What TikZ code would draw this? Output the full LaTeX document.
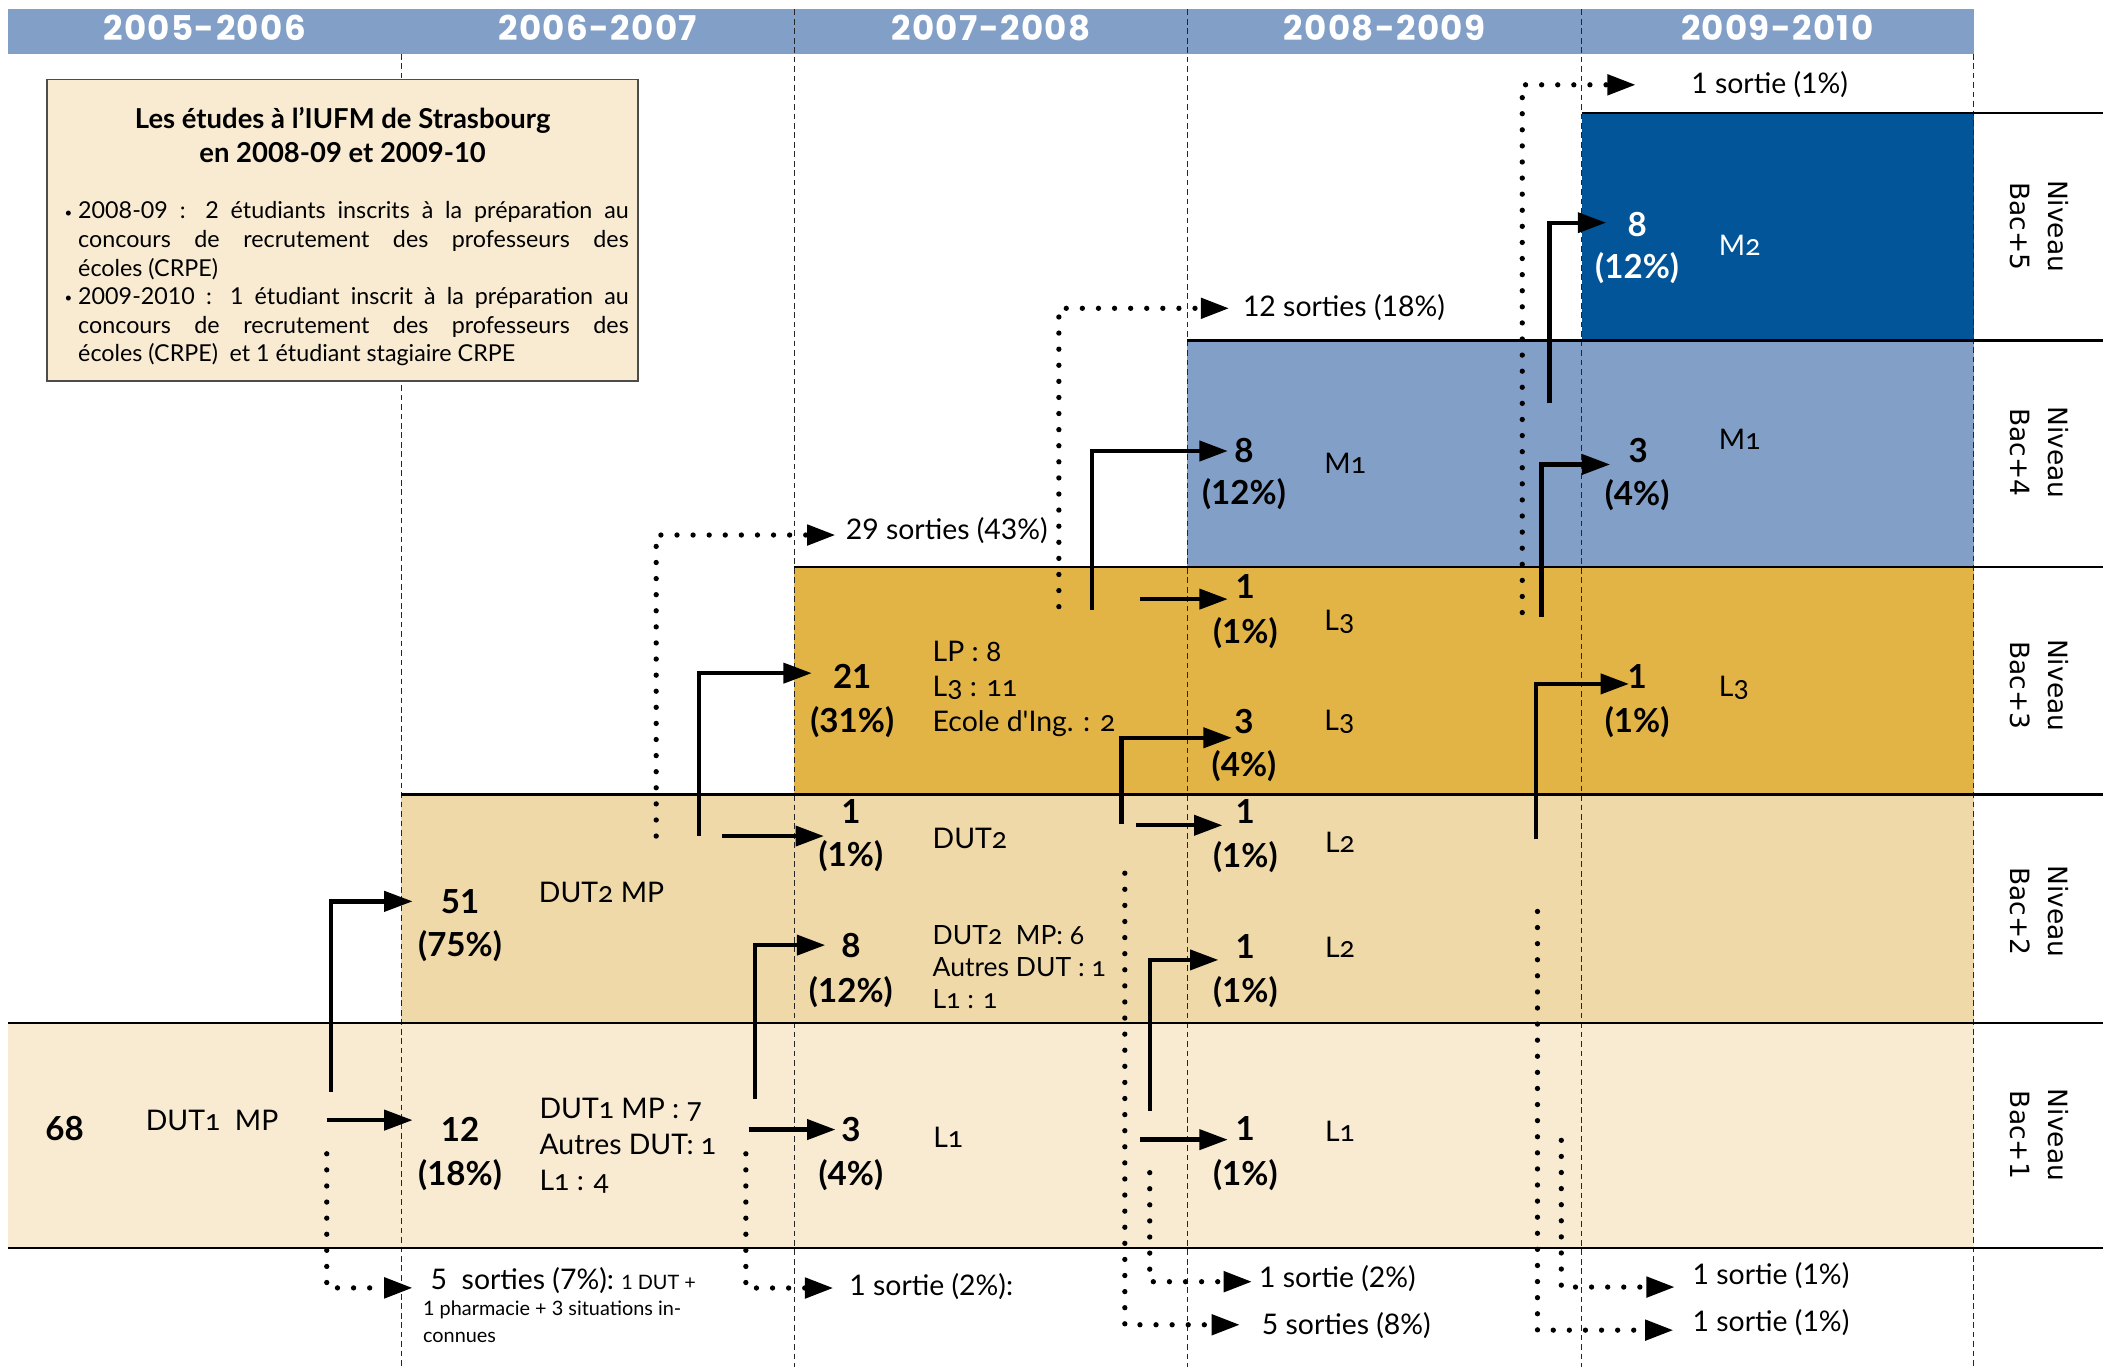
\documentclass[tikz,border=0pt]{standalone}
\usepackage{fontspec}
\setmainfont{Lato}
\newfontfamily\hdrfont{Poppins}[LetterSpace=4]
\newfontfamily\lvlfont{DejaVu Sans}
\newfontfamily\osfont{Lato}[Numbers=OldStyle]
\usetikzlibrary{arrows.meta}
\definecolor{hdrblue}{RGB}{130,159,199}
\definecolor{mtwo}{RGB}{2,85,152}
\definecolor{bacthree}{RGB}{226,180,70}
\definecolor{bactwo}{RGB}{240,217,168}
\definecolor{bacone}{RGB}{248,235,210}
\begin{document}
\begin{tikzpicture}[x=0.025cm,y=-0.025cm,
  flow/.style={line width=2.3pt,-{Triangle[length=15pt,width=10.5pt]}},
  exitflow/.style={line width=2.8pt,line cap=round,dash pattern=on 0pt off 8.5pt,-{Triangle[length=15pt,width=10.5pt]}},
  coldash/.style={line width=0.5pt,black!85,dash pattern=on 3pt off 2pt},
  rule/.style={line width=1.3pt},
  hdr/.style={font=\hdrfont\bfseries\fontsize{18}{18}\selectfont,text=white,inner sep=0pt},
  num/.style={font=\bfseries\fontsize{17.5}{17.5}\selectfont,inner sep=0pt,anchor=center},
  lab/.style={font=\osfont\fontsize{15}{19}\selectfont,inner sep=0pt,anchor=base west,align=left},
  sortie/.style={font=\fontsize{15}{15}\selectfont,inner sep=0pt,anchor=base west},
  lvl/.style={font=\lvlfont\fontsize{14}{20}\selectfont,rotate=-90,align=center,inner sep=0pt}
]
\useasboundingbox (0,0) rectangle (1568,1015.3);
% bands
\fill[hdrblue] (6,7) rectangle (1466,40);
\fill[bacone] (6,760) rectangle (1466,927);
\fill[bactwo] (298,590) rectangle (1466,760);
\fill[bacthree] (590,421) rectangle (1466,590);
\fill[hdrblue] (882,253) rectangle (1466,421);
\fill[mtwo] (1175,84) rectangle (1466,253);
% column separators
\foreach \x in {298,1466} \draw[coldash] (\x,40) -- (\x,1015.3);
\foreach \x in {590,882,1175} \draw[coldash] (\x,7) -- (\x,1015.3);
% level rules
\draw[rule] (1175,84) -- (1562,84);
\draw[rule] (882,253) -- (1562,253);
\draw[rule] (590,421) -- (1562,421);
\draw[rule] (298,590) -- (1562,590);
\draw[rule] (6,760) -- (1562,760);
\draw[rule] (6,927) -- (1562,927);
% headers
\node[hdr] (h1) at (152,21) {2005-2006};
\node[hdr] (h2) at (444,21) {2006-2007};
\node[hdr] (h3) at (736,21) {2007-2008};
\node[hdr] (h4) at (1028.5,21) {2008-2009};
\node[hdr] (h5) at (1320,21) {2009-2010};
% info box
\draw[draw=black!70,fill=bacone,line width=0.8pt] (35,59) rectangle (474,283);
\node[font=\bfseries\fontsize{14.5}{17.8}\selectfont,align=center,anchor=base,inner sep=0pt] (boxtitle) at (254.5,120.6) {Les études à l'IUFM de Strasbourg\\en 2008-09 et 2009-10};
\node[anchor=base west,inner sep=0pt,text width=298pt,align=justify,font=\fontsize{12.3}{15.1}\selectfont] (boxtext) at (47.7,162.6) {%
\hangindent=7.2pt\hangafter=1\noindent\makebox[7.2pt][l]{\raisebox{1pt}{\fontsize{7}{7}\selectfont\textbullet}}2008-09 : 2 étudiants inscrits à la préparation au\linebreak concours de recrutement des professeurs des\linebreak écoles (CRPE)\par
\hangindent=7.2pt\hangafter=1\noindent\makebox[7.2pt][l]{\raisebox{1pt}{\fontsize{7}{7}\selectfont\textbullet}}2009-2010 : 1 étudiant inscrit à la préparation au\linebreak concours de recrutement des professeurs des\linebreak écoles (CRPE)\enspace et 1 étudiant stagiaire CRPE\par};
% level labels
\node[lvl] (v5) at (1515,168) {Niveau\\Bac+5};
\node[lvl] (v4) at (1515,336) {Niveau\\Bac+4};
\node[lvl] (v3) at (1515,509) {Niveau\\Bac+3};
\node[lvl] (v2) at (1515,677) {Niveau\\Bac+2};
\node[lvl] (v1) at (1515,843) {Niveau\\Bac+1};
% column 1
\node[num] (n68) at (48,838) {68};
\node[lab] (l68) at (108,839.5) {DUT1\ \ MP};
% column 2
\node[num] (n51) at (341.7,669.5) {51};
\node[num] (p51) at (341.7,703) {(75\%)};
\node[lab] (l51) at (400,670.5) {DUT2 MP};
\node[num] (n12) at (341.7,839) {12};
\node[num] (p12) at (341.7,873) {(18\%)};
\node[lab] (l12) at (400.5,884.4) {DUT1 MP : 7\\Autres DUT: 1\\L1 : 4};
% column 3
\node[num] (n21) at (633,502.6) {21};
\node[num] (p21) at (633,536) {(31\%)};
\node[lab,font=\osfont\fontsize{15}{18.5}\selectfont] (l21) at (692.5,543.5) {LP : 8\\L3 : 11\\Ecole d'Ing. : 2};
\node[num] (n1c) at (632,603) {1};
\node[num] (p1c) at (632,636) {(1\%)};
\node[lab] (l1c) at (692.5,630.5) {DUT2};
\node[num] (n8c) at (632,702) {8};
\node[num] (p8c) at (632,737) {(12\%)};
\node[lab,font=\osfont\fontsize{14}{17}\selectfont] (l8c) at (692.5,749) {DUT2\ \ MP: 6\\Autres DUT : 1\\L1 : 1};
\node[num] (n3c) at (632,839) {3};
\node[num] (p3c) at (632,873) {(4\%)};
\node[lab] (l3c) at (693,852.5) {L1};
% column 4
\node[num] (n8d) at (924,334.8) {8};
\node[num] (p8d) at (924,367) {(12\%)};
\node[lab] (l8d) at (983.5,351.5) {M1};
\node[num] (n1d) at (925,435.8) {1};
\node[num] (p1d) at (925,470) {(1\%)};
\node[lab] (l1d) at (983.5,468) {L3};
\node[num] (n3d) at (924,536) {3};
\node[num] (p3d) at (924,569) {(4\%)};
\node[lab] (l3d) at (983.5,542.5) {L3};
\node[num] (n1e) at (925,603) {1};
\node[num] (p1e) at (925,637) {(1\%)};
\node[lab] (l1e) at (984,633.5) {L2};
\node[num] (n1f) at (925,703) {1};
\node[num] (p1f) at (925,737) {(1\%)};
\node[lab] (l1f) at (984,711.5) {L2};
\node[num] (n1g) at (925,838) {1};
\node[num] (p1g) at (925,873) {(1\%)};
\node[lab] (l1g) at (984,848) {L1};
% column 5
\node[num,text=white] (n8e) at (1216,166.7) {8};
\node[num,text=white] (p8e) at (1216,199) {(12\%)};
\node[lab,text=white] (l8e) at (1276.5,190) {M2};
\node[num] (n3e) at (1216.8,334.3) {3};
\node[num] (p3e) at (1216,367.7) {(4\%)};
\node[lab] (l3e) at (1276.5,334) {M1};
\node[num] (n1h) at (1216,502.6) {1};
\node[num] (p1h) at (1216,536) {(1\%)};
\node[lab] (l1h) at (1276.5,517.5) {L3};
% exits text
\node[sortie] (s29) at (628,401) {29 sorties (43\%)};
\node[sortie] (s12) at (923,235) {12 sorties (18\%)};
\node[sortie] (s1top) at (1256,69.5) {1 sortie (1\%)};
\node[sortie] (s5b) at (937,991.5) {5 sorties (8\%)};
\node[sortie] (s1b) at (935,956) {1 sortie (2\%)};
\node[sortie] (s1c) at (1257,954) {1 sortie (1\%)};
\node[sortie] (s1d) at (1257,989) {1 sortie (1\%)};
\node[sortie] (s1a) at (630.6,962) {1 sortie (2\%):};
\node[sortie,align=left,font=\fontsize{15}{14}\selectfont] (s5a) at (314,997) {\hspace*{4pt}5\ \ sorties (7\%):\ {\fontsize{10.5}{14}\selectfont 1 DUT +}\\{\fontsize{10.5}{14}\selectfont 1 pharmacie + 3 situations in-}\\{\fontsize{10.5}{14}\selectfont connues}};
% arrow endpoints
\coordinate (a1s) at (245.7,811);   \coordinate (a1e) at (306.5,669.5);
\coordinate (a2s) at (242.7,832);   \coordinate (a2e) at (306.5,832);
\coordinate (a3s) at (519,621);     \coordinate (a3e) at (603,500);
\coordinate (a4s) at (536,621);     \coordinate (a4e) at (612,621);
\coordinate (a5s) at (561,816);     \coordinate (a5e) at (613,702);
\coordinate (a6s) at (556,839);     \coordinate (a6e) at (620.6,839);
\coordinate (a7s) at (811,453);     \coordinate (a7e) at (912,335);
\coordinate (a8s) at (847,445);     \coordinate (a8e) at (912,445);
\coordinate (a9s) at (833,612);     \coordinate (a9e) at (915,548);
\coordinate (a10s) at (844,613);    \coordinate (a10e) at (908,613);
\coordinate (a11s) at (854,825);    \coordinate (a11e) at (905,713);
\coordinate (a12s) at (847,846.5);  \coordinate (a12e) at (912,846.5);
\coordinate (a13s) at (1151,299.6); \coordinate (a13e) at (1193,165.4);
\coordinate (a14s) at (1145,458);   \coordinate (a14e) at (1196,345);
\coordinate (a15s) at (1141,623.5); \coordinate (a15e) at (1210,508);
\draw[flow] (a1s) |- (a1e);
\draw[flow] (a2s) -- (a2e);
\draw[flow] (a3s) |- (a3e);
\draw[flow] (a4s) -- (a4e);
\draw[flow] (a5s) |- (a5e);
\draw[flow] (a6s) -- (a6e);
\draw[flow] (a7s) |- (a7e);
\draw[flow] (a8s) -- (a8e);
\draw[flow] (a9s) |- (a9e);
\draw[flow] (a10s) -- (a10e);
\draw[flow] (a11s) |- (a11e);
\draw[flow] (a12s) -- (a12e);
\draw[flow] (a13s) |- (a13e);
\draw[flow] (a14s) |- (a14e);
\draw[flow] (a15s) |- (a15e);
% exit arrows
\coordinate (xas) at (242.7,857);   \coordinate (xae) at (306.5,956.6);
\coordinate (xbs) at (554,857);     \coordinate (xbe) at (619,956.7);
\coordinate (xcs) at (487.4,621);   \coordinate (xce) at (620.6,397.4);
\coordinate (xds) at (786.5,450.6); \coordinate (xde) at (913,229);
\coordinate (xes) at (835.5,648.6); \coordinate (xee) at (921,984);
\coordinate (xfs) at (854,871);     \coordinate (xfe) at (930,952);
\coordinate (xgs) at (1130.7,455);  \coordinate (xge) at (1215,63);
\coordinate (xhs) at (1142,677);    \coordinate (xhe) at (1243,988);
\coordinate (xis) at (1159.7,847);  \coordinate (xie) at (1244,956);
\draw[exitflow] (xas) |- (xae);
\draw[exitflow] (xbs) |- (xbe);
\draw[exitflow] (xcs) |- (xce);
\draw[exitflow] (xds) |- (xde);
\draw[exitflow] (xes) |- (xee);
\draw[exitflow] (xfs) |- (xfe);
\draw[exitflow] (xgs) |- (xge);
\draw[exitflow] (xhs) |- (xhe);
\draw[exitflow] (xis) |- (xie);
\end{tikzpicture}
\end{document}
